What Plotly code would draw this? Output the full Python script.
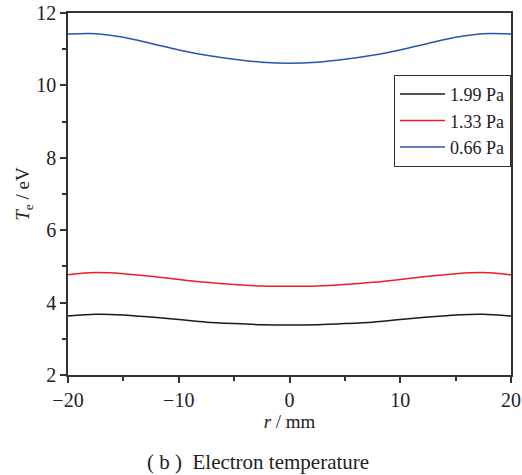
import plotly.graph_objects as go

r_mm = [-20, -17.5, -15, -12.5, -10, -7.5, -5, -2.5, 0, 2.5, 5, 7.5, 10, 12.5, 15, 17.5, 20]
te_199 = [3.63, 3.68, 3.66, 3.60, 3.53, 3.46, 3.42, 3.39, 3.38, 3.39, 3.42, 3.46, 3.53, 3.60, 3.66, 3.68, 3.63]
te_133 = [4.77, 4.83, 4.80, 4.73, 4.64, 4.56, 4.50, 4.46, 4.45, 4.46, 4.50, 4.56, 4.64, 4.73, 4.80, 4.83, 4.77]
te_066 = [11.42, 11.43, 11.33, 11.16, 10.98, 10.83, 10.72, 10.64, 10.61, 10.64, 10.72, 10.83, 10.98, 11.16, 11.33, 11.43, 11.42]
series_names = ["1.99 Pa", "1.33 Pa", "0.66 Pa"]
series_colors = ["#1a1a1a", "#ee1c25", "#2456b4"]

fig = go.Figure()
for name, vals, col in zip(series_names, [te_199, te_133, te_066], series_colors):
    fig.add_trace(go.Scatter(x=r_mm, y=vals, mode="lines", name=name,
                             line=dict(color=col, width=1.5, shape="spline", smoothing=0.8)))

font_family = "'Liberation Serif', 'Times New Roman', Times, 'DejaVu Serif', serif"
axis_common = dict(showline=True, linecolor="#333333", linewidth=1.5, mirror=True,
                   ticks="outside", tickcolor="#333333", ticklen=6, tickwidth=1.5,
                   showgrid=False, zeroline=False,
                   tickfont=dict(family=font_family, size=20, color="#222222"))

fig.update_layout(
    width=522, height=475,
    margin=dict(l=68, r=11, t=13, b=100, autoexpand=False),
    plot_bgcolor="white", paper_bgcolor="white",
    font=dict(family=font_family, color="#222222"),
    xaxis=dict(range=[-20, 20], dtick=10,
               minor=dict(dtick=5, ticks="outside", ticklen=4, tickcolor="#333333", tickwidth=1.5),
               title=dict(text="<i>r</i> / mm", font=dict(family=font_family, size=19), standoff=4),
               **axis_common),
    yaxis=dict(range=[2, 12], dtick=2,
               minor=dict(dtick=1, ticks="outside", ticklen=4, tickcolor="#333333", tickwidth=1.5),
               title=dict(text="<i>T</i><sub>e</sub> / eV", font=dict(family=font_family, size=19), standoff=2),
               **axis_common),
    legend=dict(x=1, xanchor="right", y=0.829, yanchor="top",
                bgcolor="white", bordercolor="#333333", borderwidth=1,
                font=dict(family=font_family, size=18, color="#222222"),
                tracegroupgap=0, itemwidth=45),
    showlegend=True,
)

fig.add_annotation(text="( b )  Electron temperature", xref="paper", yref="paper",
                   x=0.43, y=-0.24, xanchor="center", yanchor="middle", showarrow=False,
                   font=dict(family=font_family, size=21, color="#222222"))

fig.write_html("out.html", config={"displayModeBar": False},
               post_script="document.body.style.margin='0';document.body.style.overflow='hidden';")
